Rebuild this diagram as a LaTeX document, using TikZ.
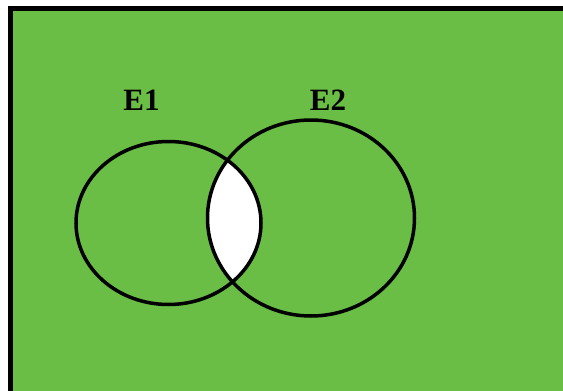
\documentclass[tikz,border=0pt]{standalone}
\usepackage{fontspec}
\setmainfont{Liberation Serif}
\usetikzlibrary{calc, positioning}

\definecolor{venngreen}{RGB}{106,189,69}

\tikzset{
  setline/.style={line width=3.5pt, black},
  setlabel/.style={font=\bfseries\fontsize{31}{31}\selectfont, inner sep=0pt}
}

\begin{document}
\begin{tikzpicture}[x=1pt,y=-1pt]
\def\cxa{168.5}
\def\cya{223}
\def\rxa{92.5}
\def\rya{81.5}
\def\cxb{311}
\def\cyb{218}
\def\rxb{103.5}
\def\ryb{98}

\useasboundingbox (0,0) rectangle (563,391);
\clip (0,0) rectangle (563,391);
\fill[white] (0,0) rectangle (563,391);

% frame of the sample space
\draw[line width=5pt, fill=venngreen] (10.5,8.5) rectangle (580,410);

% the common part of E1 and E2
\begin{scope}
  \clip (\cxa,\cya) ellipse [x radius=\rxa, y radius=\rya];
  \fill[white] (\cxb,\cyb) ellipse [x radius=\rxb, y radius=\ryb];
\end{scope}

\draw[setline] (\cxa,\cya) ellipse [x radius=\rxa, y radius=\rya];
\draw[setline] (\cxb,\cyb) ellipse [x radius=\rxb, y radius=\ryb];

\node[setlabel] (eone) at (141.5,100) {E1};
\node[setlabel] (etwo) at (328,100) {E2};
\end{tikzpicture}
\end{document}
